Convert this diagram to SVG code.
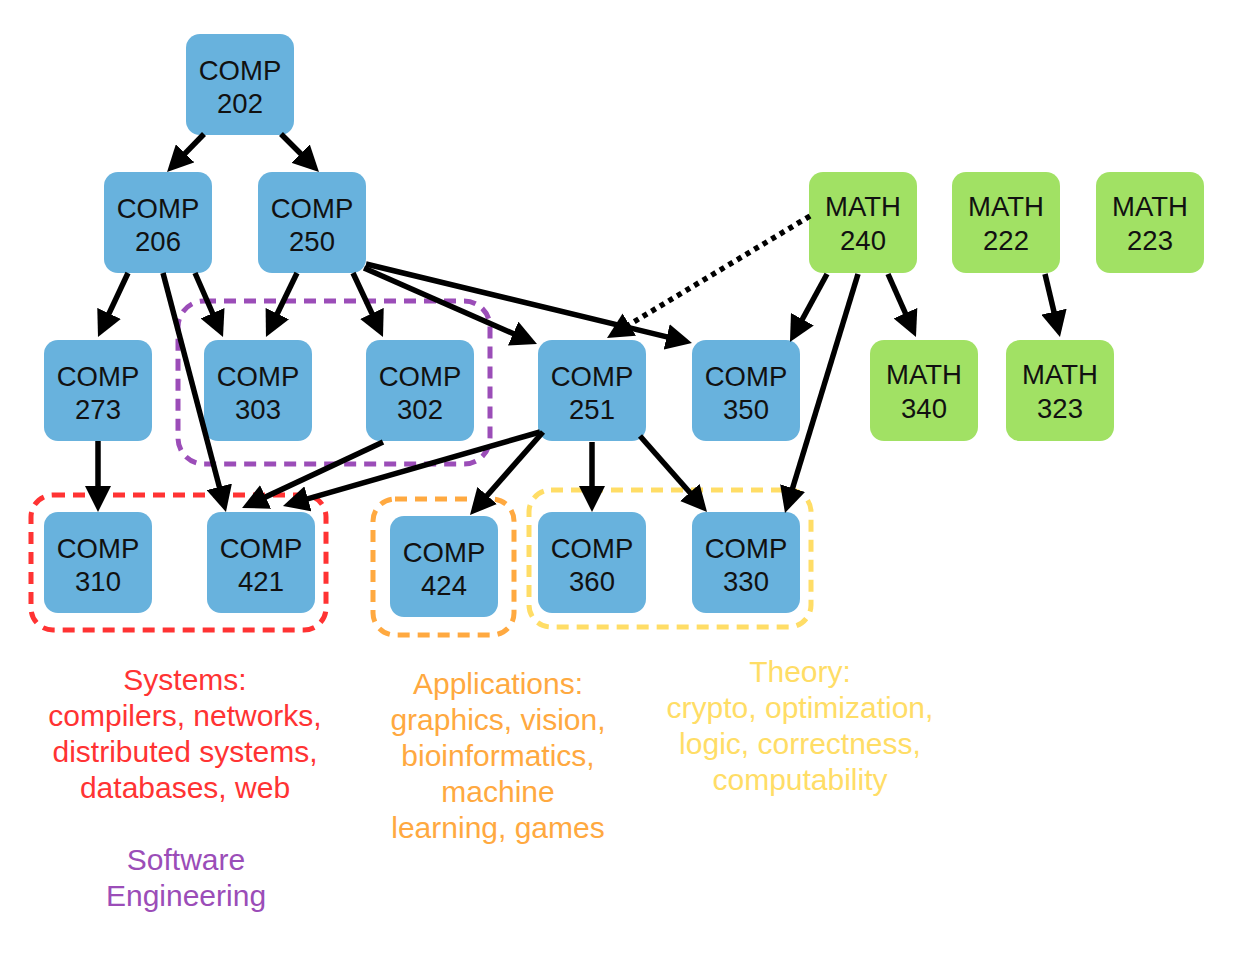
<svg xmlns="http://www.w3.org/2000/svg" width="1258" height="976" viewBox="0 0 1258 976">
<style>
.n rect{stroke:none}
.comp rect{fill:#68B2DD}
.math rect{fill:#A1E164}
.n text{font-family:"Liberation Sans",Arial,sans-serif;font-size:27.5px;fill:#111;text-anchor:middle}
.grp{fill:none;stroke-width:5;stroke-dasharray:12 8}
.e{stroke:#000;stroke-width:5.5;fill:none;marker-end:url(#ah)}
.lbl{font-family:"Liberation Sans",Arial,sans-serif;font-size:30px;text-anchor:middle}
</style>
<defs>
<marker id="ah" markerUnits="userSpaceOnUse" markerWidth="26" markerHeight="26" refX="14" refY="13" orient="auto" viewBox="0 0 26 26">
<path d="M0,0 L26,13 L0,26 z" fill="#000"/>
</marker>
</defs>
<rect width="1258" height="976" fill="#fff"/>
<g id="groups">
<rect id="grp-se" class="grp" x="178" y="301" width="312" height="163" rx="26" stroke="#9B4DB8"/>
<rect id="grp-sys" class="grp" x="31" y="495" width="295" height="135" rx="22" stroke="#FF3333"/>
<rect id="grp-app" class="grp" x="373" y="499" width="141" height="136" rx="22" stroke="#FFA940"/>
<rect id="grp-theory" class="grp" x="529" y="490" width="282" height="137" rx="22" stroke="#FFDD66"/>
</g>
<g id="n202" class="n comp"><rect x="186" y="34" width="108" height="101" rx="14"/><text x="240" y="79.5">COMP</text><text x="240" y="113">202</text></g>
<g id="n206" class="n comp"><rect x="104" y="172" width="108" height="101" rx="14"/><text x="158" y="217.5">COMP</text><text x="158" y="251">206</text></g>
<g id="n250" class="n comp"><rect x="258" y="172" width="108" height="101" rx="14"/><text x="312" y="217.5">COMP</text><text x="312" y="251">250</text></g>
<g id="n273" class="n comp"><rect x="44" y="340" width="108" height="101" rx="14"/><text x="98" y="385.5">COMP</text><text x="98" y="419">273</text></g>
<g id="n303" class="n comp"><rect x="204" y="340" width="108" height="101" rx="14"/><text x="258" y="385.5">COMP</text><text x="258" y="419">303</text></g>
<g id="n302" class="n comp"><rect x="366" y="340" width="108" height="101" rx="14"/><text x="420" y="385.5">COMP</text><text x="420" y="419">302</text></g>
<g id="n251" class="n comp"><rect x="538" y="340" width="108" height="101" rx="14"/><text x="592" y="385.5">COMP</text><text x="592" y="419">251</text></g>
<g id="n350" class="n comp"><rect x="692" y="340" width="108" height="101" rx="14"/><text x="746" y="385.5">COMP</text><text x="746" y="419">350</text></g>
<g id="n310" class="n comp"><rect x="44" y="512" width="108" height="101" rx="14"/><text x="98" y="557.5">COMP</text><text x="98" y="591">310</text></g>
<g id="n421" class="n comp"><rect x="207" y="512" width="108" height="101" rx="14"/><text x="261" y="557.5">COMP</text><text x="261" y="591">421</text></g>
<g id="n424" class="n comp"><rect x="390" y="516" width="108" height="101" rx="14"/><text x="444" y="561.5">COMP</text><text x="444" y="595">424</text></g>
<g id="n360" class="n comp"><rect x="538" y="512" width="108" height="101" rx="14"/><text x="592" y="557.5">COMP</text><text x="592" y="591">360</text></g>
<g id="n330" class="n comp"><rect x="692" y="512" width="108" height="101" rx="14"/><text x="746" y="557.5">COMP</text><text x="746" y="591">330</text></g>
<g id="m240" class="n math"><rect x="809" y="172" width="108" height="101" rx="14"/><text x="863" y="216">MATH</text><text x="863" y="250">240</text></g>
<g id="m222" class="n math"><rect x="952" y="172" width="108" height="101" rx="14"/><text x="1006" y="216">MATH</text><text x="1006" y="250">222</text></g>
<g id="m223" class="n math"><rect x="1096" y="172" width="108" height="101" rx="14"/><text x="1150" y="216">MATH</text><text x="1150" y="250">223</text></g>
<g id="m340" class="n math"><rect x="870" y="340" width="108" height="101" rx="14"/><text x="924" y="384">MATH</text><text x="924" y="418">340</text></g>
<g id="m323" class="n math"><rect x="1006" y="340" width="108" height="101" rx="14"/><text x="1060" y="384">MATH</text><text x="1060" y="418">323</text></g>
<g id="connectors">
<line class="e" x1="204" y1="134" x2="175.4" y2="163.4"/>
<line class="e" x1="281" y1="134" x2="310.5" y2="163.5"/>
<line class="e" x1="128" y1="273" x2="103.1" y2="326.1"/>
<line class="e" x1="163" y1="273" x2="222.9" y2="500.4"/>
<line class="e" x1="195" y1="273" x2="218.2" y2="326"/>
<line class="e" x1="297" y1="273" x2="271.2" y2="326.2"/>
<line class="e" x1="353" y1="273" x2="377.9" y2="326.1"/>
<line class="e" x1="364" y1="268" x2="526" y2="339.2"/>
<line class="e" x1="366" y1="264" x2="680.3" y2="340.2"/>
<line class="e" x1="810" y1="216" x2="617.3" y2="331.8" stroke-dasharray="5 5"/>
<line class="e" x1="827" y1="274" x2="795.7" y2="331.5"/>
<line class="e" x1="858" y1="274" x2="788.5" y2="501.5"/>
<line class="e" x1="888" y1="274" x2="911.1" y2="326"/>
<line class="e" x1="1045" y1="274" x2="1057.2" y2="325.3"/>
<line class="e" x1="98" y1="441" x2="98" y2="500"/>
<line class="e" x1="383" y1="442" x2="252.9" y2="502.9"/>
<line class="e" x1="540" y1="432" x2="294.5" y2="502.7"/>
<line class="e" x1="543" y1="432" x2="477.9" y2="506"/>
<line class="e" x1="592" y1="442" x2="592" y2="500"/>
<line class="e" x1="640" y1="436" x2="699.1" y2="503"/>
</g>
<g id="labels">
<text class="lbl" fill="#FF3333"><tspan x="185" y="690">Systems:</tspan><tspan x="185" y="726">compilers, networks,</tspan><tspan x="185" y="762">distributed systems,</tspan><tspan x="185" y="798">databases, web</tspan></text>
<text class="lbl" fill="#9B4DB8"><tspan x="186" y="870">Software</tspan><tspan x="186" y="906">Engineering</tspan></text>
<text class="lbl" fill="#FFA940"><tspan x="498" y="694">Applications:</tspan><tspan x="498" y="730">graphics, vision,</tspan><tspan x="498" y="766">bioinformatics,</tspan><tspan x="498" y="802">machine</tspan><tspan x="498" y="838">learning, games</tspan></text>
<text class="lbl" fill="#FFDD66"><tspan x="800" y="682">Theory:</tspan><tspan x="800" y="718">crypto, optimization,</tspan><tspan x="800" y="754">logic, correctness,</tspan><tspan x="800" y="790">computability</tspan></text>
</g>
</svg>
